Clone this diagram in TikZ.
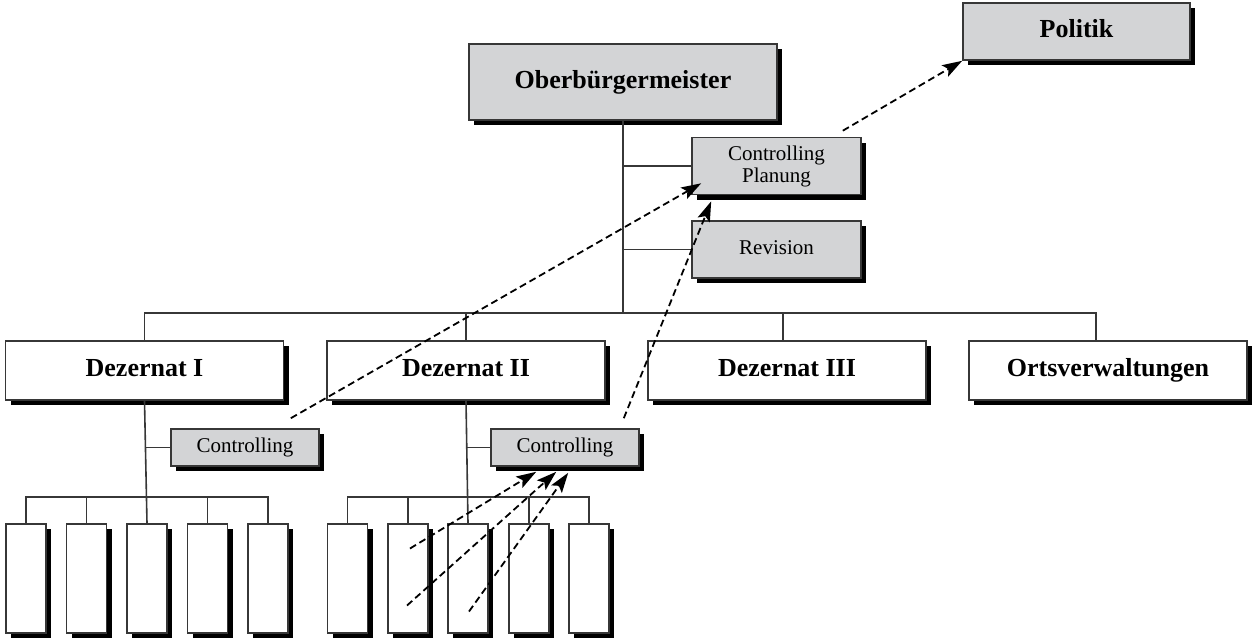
\documentclass[tikz,border=0pt]{standalone}
\usepackage{fontspec}
\setmainfont{Liberation Serif}
\usetikzlibrary{arrows.meta,shadows,calc}

\definecolor{boxgray}{RGB}{211,212,214}
\definecolor{linegray}{RGB}{55,55,55}

\tikzset{
  orgbox/.style={draw=linegray, line width=1.6pt, fill=white, inner sep=0pt,
    general shadow={fill=black, shadow xshift=5pt, shadow yshift=-5pt}},
  bigtext/.style={font=\fontsize{26}{30}\selectfont\bfseries, text height=18pt, text depth=6pt},
  headbox/.style={orgbox, fill=boxgray, bigtext},
  deptbox/.style={orgbox, minimum width=278pt, minimum height=59pt, bigtext},
  staffbox/.style={orgbox, fill=boxgray, minimum width=169pt, minimum height=57pt,
    align=center, font=\fontsize{21}{22}\selectfont},
  ctrlbox/.style={orgbox, fill=boxgray, minimum width=148pt, minimum height=37pt,
    font=\fontsize{21}{22}\selectfont, text height=14pt, text depth=4pt},
  unitbox/.style={orgbox, minimum width=40pt, minimum height=109pt},
  tree/.style={draw=linegray, line width=1.6pt},
  report/.style={line width=1.8pt, dash pattern=on 7pt off 4pt,
    -{Stealth[length=20pt,width=13pt,inset=4pt]}}
}

\begin{document}
\begin{tikzpicture}[x=1pt,y=-1pt]
\useasboundingbox (0,0) rectangle (1252,641);

% top level
\node[headbox, minimum width=308pt, minimum height=76pt] (obm) at (623,82) {Oberbürgermeister};
\node[headbox, minimum width=227pt, minimum height=57pt] (politik) at (1076.5,31.5) {Politik};

% staff units
\node[staffbox] (cp) at (776.5,166) {Controlling\\Planung};
\node[staffbox, text height=14pt, text depth=4pt] (rev) at (776.5,249.5) {Revision};

% departments
\node[deptbox] (d1) at (144.5,370.5) {Dezernat I};
\node[deptbox] (d2) at (466,370.5) {Dezernat II};
\node[deptbox] (d3) at (787,370.5) {Dezernat III};
\node[deptbox] (ov) at (1108,370.5) {Ortsverwaltungen};

% department controlling
\node[ctrlbox] (c1) at (245,447.5) {Controlling};
\node[ctrlbox] (c2) at (565,447.5) {Controlling};

% offices below the departments
\foreach \i/\x in {1/26,2/86.5,3/147,4/207.5,5/268}
  \node[unitbox] (s1\i) at (\x,578.5) {};
\foreach \i/\x in {1/347.5,2/408,3/468,4/529,5/589}
  \node[unitbox] (s2\i) at (\x,578.5) {};

% tree lines
\coordinate (bus) at (624,313);
\coordinate (sb1) at (146,497);
\coordinate (sb2) at (466,497);

\draw[tree] (obm.south) -- (obm.south |- bus);
\draw[tree] (cp.west) -- (cp.west -| obm.south);
\draw[tree] (rev.west) -- (rev.west -| obm.south);
\draw[tree] (d1.north) -- (d1.north |- bus) -- ([xshift=-12pt]ov.north |- bus) -- ([xshift=-12pt]ov.north);
\draw[tree] (d2.north) -- (d2.north |- bus);
\draw[tree] ([xshift=-4pt]d3.north) -- ([xshift=-4pt]d3.north |- bus);

\draw[tree] (d1.south) -- (s13.north);
\draw[tree] (c1.west) -- (c1.west -| d1.south);
\draw[tree] (s11.north) -- (s11.north |- sb1) -- (s15.north |- sb1) -- (s15.north);
\draw[tree] (s12.north) -- (s12.north |- sb1);
\draw[tree] (s14.north) -- (s14.north |- sb1);

\draw[tree] (d2.south) -- (s23.north);
\draw[tree] (c2.west) -- (c2.west -| d2.south);
\draw[tree] (s21.north) -- (s21.north |- sb2) -- (s25.north |- sb2) -- (s25.north);
\draw[tree] (s22.north) -- (s22.north |- sb2);
\draw[tree] (s24.north) -- (s24.north |- sb2);

% reporting lines
\draw[report] ($(c1.north east)+(-29,-10)$) -- ($(cp.south west)+(10,-12)$);
\draw[report] ($(c2.north east)+(-16,-10)$) -- ($(cp.south west)+(20,6)$);
\draw[report] ($(cp.north east)+(-19,-6)$) -- (politik.south west);
\draw[report] ($(s22.center)+(2,-30)$) -- ($(c2.south west)+(46,5)$);
\draw[report] ($(s22.center)+(-1,27)$) -- ($(c2.south west)+(66,5)$);
\draw[report] ($(s23.center)+(1,33)$) -- ($(c2.south west)+(78,6)$);
\end{tikzpicture}
\end{document}
